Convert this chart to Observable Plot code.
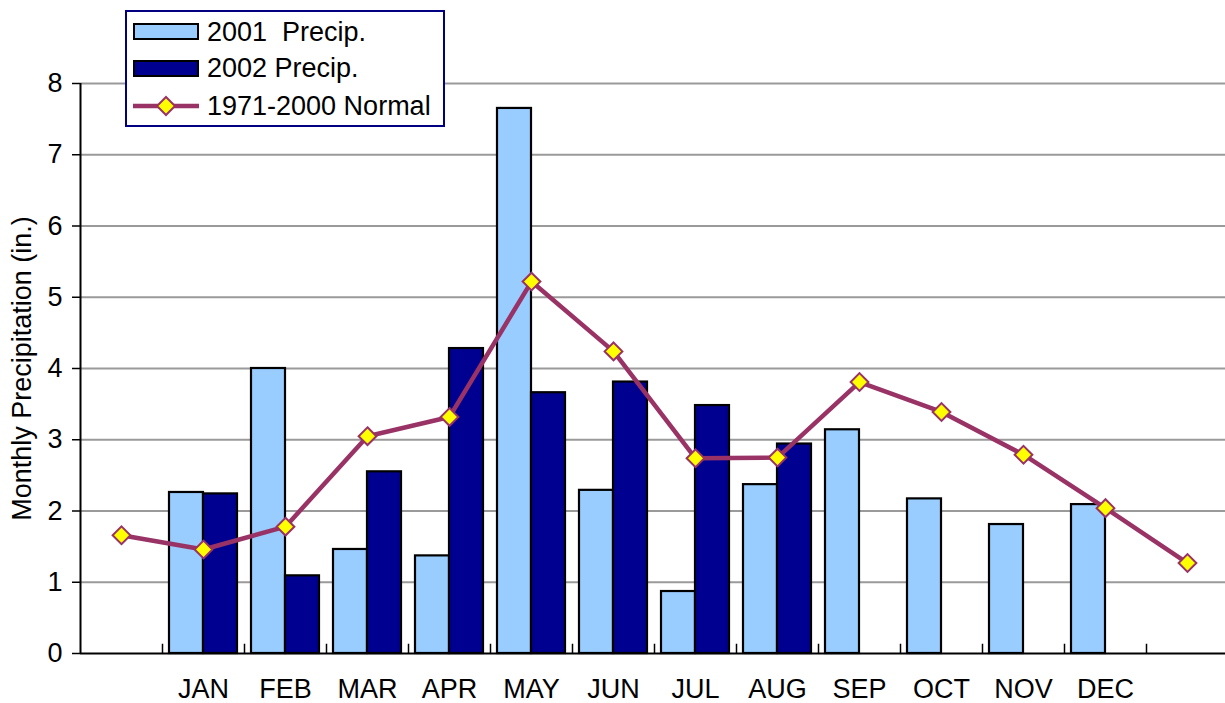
<!DOCTYPE html>
<html>
<head>
<meta charset="utf-8">
<script src="https://cdn.jsdelivr.net/npm/d3@7"></script>
<script src="https://cdn.jsdelivr.net/npm/@observablehq/plot@0.6"></script>
<style>
  html, body { margin: 0; padding: 0; background: white; }
  #wrap { position: relative; width: 1225px; height: 703px; overflow: hidden; font-family: "Liberation Sans", Arial, sans-serif; }
  .lgtext { position: absolute; height: 36px; line-height: 36px; font-size: 27px; color: black; white-space: pre; }
</style>
</head>
<body>
<div id="wrap"></div>
<script>
// ---- data ----
const months = ["JAN", "FEB", "MAR", "APR", "MAY", "JUN", "JUL", "AUG", "SEP", "OCT", "NOV", "DEC"];
const categories = ["pre", ...months, "post"];
const precip2001 = [2.26, 4.00, 1.46, 1.37, 7.65, 2.29, 0.87, 2.37, 3.14, 2.17, 1.81, 2.09];
const precip2002 = [2.24, 1.09, 2.55, 4.28, 3.66, 3.81, 3.48, 2.94];
const normal = [1.66, 1.46, 1.78, 3.05, 3.32, 5.22, 4.24, 2.74, 2.75, 3.81, 3.39, 2.79, 2.04, 1.27];
const yTicks = [0, 1, 2, 3, 4, 5, 6, 7, 8];
const seriesNames = ["2001  Precip.", "2002 Precip.", "1971-2000 Normal"];
const yLabel = "Monthly Precipitation (in.)";

const colors = { p2001: "#99CCFF", p2002: "#000090", normal: "#993366", marker: "#FFFF00", legendBorder: "#000080" };

const bars2001 = precip2001.map((v, i) => ({ month: months[i], value: v }));
const bars2002 = precip2002.map((v, i) => ({ month: months[i], value: v }));
const normalData = normal.map((v, i) => ({ cat: categories[i], value: v }));

const chart = Plot.plot({
  width: 1225,
  height: 703,
  marginLeft: 80,
  marginRight: -3,
  marginTop: 83,
  marginBottom: 50,
  style: { fontFamily: "'Liberation Sans', Arial, sans-serif", fontSize: "27px", color: "black", background: "white", overflow: "hidden" },
  x: { domain: categories, padding: 0, axis: null },
  y: { domain: [0, 8], axis: null },
  marks: [
    Plot.gridY(yTicks.slice(1), { stroke: "#9a9a9a", strokeOpacity: 1, strokeWidth: 2 }),
    Plot.barY(bars2001, { x: "month", y: "value", fill: colors.p2001, stroke: "black", strokeWidth: 2.2, insetLeft: 7, insetRight: 41 }),
    Plot.barY(bars2002, { x: "month", y: "value", fill: colors.p2002, stroke: "black", strokeWidth: 2.2, insetLeft: 41, insetRight: 7 }),
    Plot.ruleY([0], { stroke: "black", strokeWidth: 2 }),
    Plot.ruleX(categories.slice(0, 1), { x: d => d, y1: 0, y2: 8, dx: -41, stroke: "black", strokeWidth: 2 }),
    Plot.ruleX(categories.slice(1), { x: d => d, y1: 0, y2: 0.13, dx: -41, stroke: "black", strokeWidth: 1.5 }),
    Plot.axisY({ ticks: yTicks, tickSize: 8, tickPadding: 10, fontSize: 27, label: null, strokeWidth: 1.5 }),
    Plot.axisX({ tickSize: 0, tickPadding: 25, fontSize: 27, label: null, tickFormat: d => months.includes(d) ? d : "" }),
    Plot.line(normalData, { x: "cat", y: "value", stroke: colors.normal, strokeWidth: 4.5 }),
    Plot.dot(normalData, { x: "cat", y: "value", symbol: "diamond2", r: 8, fill: colors.marker, stroke: colors.normal, strokeWidth: 2 }),
    Plot.text([yLabel], { frameAnchor: "left", dx: -58, rotate: -90, fontSize: 27, fill: "black", textAnchor: "middle", lineAnchor: "middle" })
  ]
});

const wrap = document.getElementById("wrap");
wrap.appendChild(chart);

// ---- legend (overlaid on the plot, like the original) ----
function el(tag, style, text) {
  const e = document.createElement(tag);
  Object.assign(e.style, style);
  if (text != null) e.textContent = text;
  wrap.appendChild(e);
  return e;
}
el("div", { position: "absolute", left: "125px", top: "10px", width: "320px", height: "117px", boxSizing: "border-box", border: "2px solid " + colors.legendBorder, background: "white" });
el("div", { position: "absolute", left: "133px", top: "23px", width: "66px", height: "17px", boxSizing: "border-box", border: "2px solid black", background: colors.p2001 });
el("div", { position: "absolute", left: "133px", top: "60px", width: "66px", height: "17px", boxSizing: "border-box", border: "2px solid black", background: colors.p2002 });
const ns = "http://www.w3.org/2000/svg";
const ls = document.createElementNS(ns, "svg");
ls.setAttribute("width", 70); ls.setAttribute("height", 24);
Object.assign(ls.style, { position: "absolute", left: "131px", top: "94px" });
ls.innerHTML = `<line x1="2" x2="68" y1="12" y2="12" stroke="${colors.normal}" stroke-width="4.5"/>` +
  `<path d="M35,3L44,12L35,21L26,12Z" fill="${colors.marker}" stroke="${colors.normal}" stroke-width="2"/>`;
wrap.appendChild(ls);
const centers = [32, 68, 106];
seriesNames.forEach((name, i) => {
  const t = el("div", { left: "207px", top: (centers[i] - 18) + "px" }, name);
  t.className = "lgtext";
});
</script>
</body>
</html>
